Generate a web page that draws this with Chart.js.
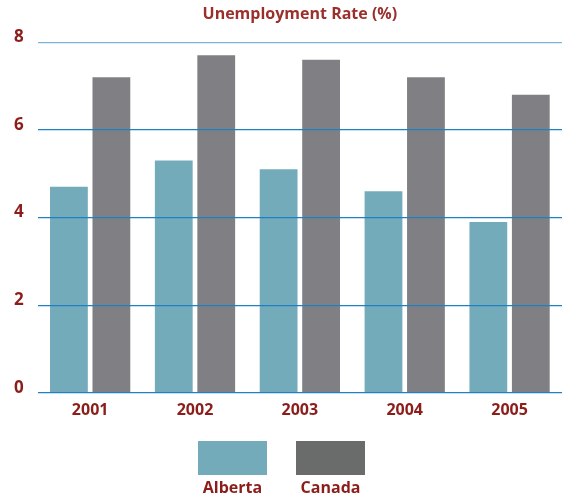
<!DOCTYPE html>
<html>
<head>
<meta charset="utf-8">
<script src="https://cdn.jsdelivr.net/npm/chart.js@4"></script>
<style>
  html, body { margin: 0; padding: 0; background: #fff; }
  #wrap { width: 562px; height: 498px; }
</style>
</head>
<body>
<div id="wrap"><canvas id="rateChart" width="562" height="498"></canvas></div>
<script>
const years = ['2001', '2002', '2003', '2004', '2005'];
const alberta = [4.7, 5.3, 5.1, 4.6, 3.9];
const canada = [7.2, 7.7, 7.6, 7.2, 6.8];
const yTicks = [0, 2, 4, 6, 8];

const red = '#8b1d1a';
const font = 'Open Sans';

// legend drawn as boxes with the name underneath
const boxLegend = {
  id: 'boxLegend',
  afterDraw(chart) {
    const ctx = chart.ctx;
    const items = [
      { label: 'Alberta', color: '#74abbb', x: 198 },
      { label: 'Canada', color: '#6a6c6b', x: 296 },
    ];
    ctx.save();
    items.forEach((it) => {
      ctx.fillStyle = it.color;
      ctx.fillRect(it.x, 441, 69, 34);
      ctx.fillStyle = red;
      ctx.font = 'bold 16px "' + font + '"';
      ctx.textAlign = 'center';
      ctx.textBaseline = 'middle';
      ctx.fillText(it.label, it.x + 34.5, 488);
    });
    ctx.restore();
  },
};

new Chart(document.getElementById('rateChart'), {
  type: 'bar',
  data: {
    labels: years,
    datasets: [
      { label: 'Alberta', data: alberta, backgroundColor: '#74abbb', barPercentage: 0.89, categoryPercentage: 0.81 },
      { label: 'Canada', data: canada, backgroundColor: '#808084', barPercentage: 0.89, categoryPercentage: 0.81 },
    ],
  },
  options: {
    responsive: false,
    animation: false,
    layout: { padding: { top: 0, right: 0, bottom: 78, left: 0 } },
    plugins: {
      legend: { display: false },
      tooltip: { enabled: false },
      title: {
        display: true,
        text: 'Unemployment Rate (%)',
        color: '#9b2f2b',
        font: { family: font, size: 16, weight: 'bold' },
        padding: { top: 5, bottom: 18 },
        fullSize: false,
      },
    },
    scales: {
      x: {
        grid: { display: false },
        border: { display: false },
        ticks: { color: red, font: { family: font, size: 16, weight: 'bold' }, padding: 0 },
      },
      y: {
        min: 0,
        max: 8,
        afterBuildTicks: (axis) => { axis.ticks = yTicks.map((v) => ({ value: v })); },
        border: { display: false },
        grid: {
          z: 1,
          drawTicks: false,
          lineWidth: 1.3,
          color: (c) => (c.tick && c.tick.value === 8 ? '#78b4d8' : '#1f80c2'),
        },
        ticks: { color: red, font: { family: font, size: 17, weight: 'bold' }, padding: 14, labelOffset: -5 },
      },
    },
  },
  plugins: [boxLegend],
});
</script>
</body>
</html>
